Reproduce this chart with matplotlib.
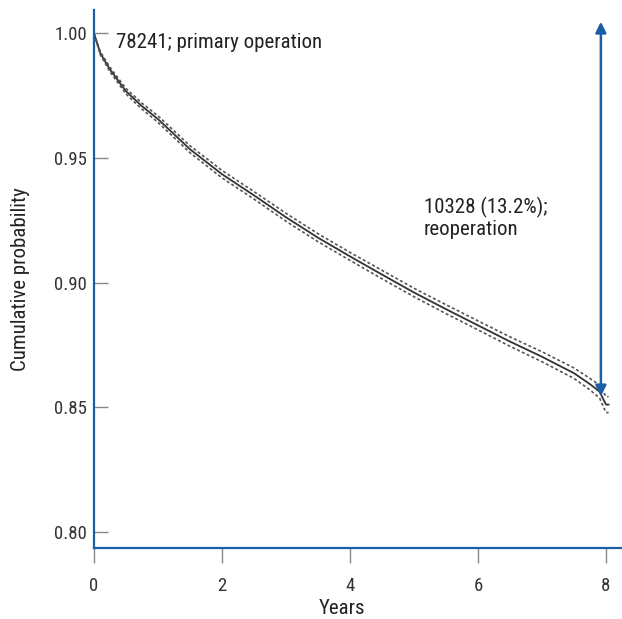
import matplotlib
matplotlib.use("Agg")
import matplotlib.pyplot as plt

# ---- data ----
years = [0, 0.1, 0.25, 0.5, 0.75, 1.0, 1.5, 2.0, 2.5, 3.0, 3.5, 4.0, 4.5,
         5.0, 5.5, 6.0, 6.5, 7.0, 7.5, 7.75, 7.9, 8.0, 8.04]
survival = [1.0, 0.992, 0.9855, 0.9768, 0.9708, 0.9656, 0.9535, 0.9435, 0.935,
            0.9262, 0.918, 0.9105, 0.9032, 0.896, 0.8893, 0.8828, 0.8763,
            0.8702, 0.8636, 0.8592, 0.8562, 0.851, 0.851]
upper_ci = [1.0, 0.9926, 0.9864, 0.9779, 0.972, 0.9669, 0.9549, 0.945, 0.9365,
            0.9278, 0.9196, 0.9121, 0.9049, 0.8977, 0.8911, 0.8846, 0.8782,
            0.8722, 0.8657, 0.8615, 0.8588, 0.8542, 0.8542]
lower_ci = [1.0, 0.9914, 0.9846, 0.9757, 0.9696, 0.9643, 0.9521, 0.942, 0.9335,
            0.9246, 0.9164, 0.9089, 0.9015, 0.8943, 0.8875, 0.881, 0.8744,
            0.8682, 0.8615, 0.8569, 0.8536, 0.8478, 0.8478]
x_ticks = [0, 2, 4, 6, 8]
y_ticks = [0.80, 0.85, 0.90, 0.95, 1.00]
y_tick_labels = ["0.80", "0.85", "0.90", "0.95", "1.00"]
label_primary = "78241; primary operation"
label_reop = "10328 (13.2%);\nreoperation"

plt.rcParams['font.family'] = ['Roboto Condensed', 'DejaVu Sans']

blue = "#1a5ea8"
fig = plt.figure(figsize=(6.22, 6.19), dpi=100)
ax = fig.add_axes([0.1511, 0.1142, 0.8489, 0.8696])

ax.plot(years, survival, color="#333333", lw=1.3)
ax.plot(years, upper_ci, color="#555555", lw=1.2, dashes=(1.8, 1.4))
ax.plot(years, lower_ci, color="#555555", lw=1.2, dashes=(1.8, 1.4))

ax.set_xlim(0, 8.25)
ax.set_ylim(0.7933, 1.0094)
ax.set_xticks(x_ticks)
ax.set_yticks(y_ticks)
ax.set_yticklabels(y_tick_labels)

for s in ["top", "right"]:
    ax.spines[s].set_visible(False)
for s in ["left", "bottom"]:
    ax.spines[s].set_color(blue)
    ax.spines[s].set_linewidth(1.6)

ax.tick_params(axis="y", direction="in", length=10, width=1, color="#888888",
               labelsize=13.5, labelcolor="#333333", pad=5)
ax.tick_params(axis="x", direction="out", length=10.5, width=1, color="#888888",
               labelsize=13.5, labelcolor="#333333", pad=10)

ax.set_xlabel("Years", fontsize=15, color="#222222")
ax.xaxis.set_label_coords(0.47, -0.095)
ax.set_ylabel("Cumulative probability", fontsize=15, color="#222222")
ax.yaxis.set_label_coords(-0.122, 0.5)

ax.text(0.34, 0.9965, label_primary, fontsize=15, color="#222222",
        va="center", ha="left")
ax.text(5.15, 0.926, label_reop, fontsize=15, color="#222222",
        va="center", ha="left", linespacing=1.15)

ax.annotate("", xy=(7.92, 1.0047), xytext=(7.92, 0.8543),
            arrowprops=dict(arrowstyle="<|-|>", color=blue, lw=1.8,
                            mutation_scale=16, shrinkA=0, shrinkB=0))

fig.savefig("out.png", dpi=100)
